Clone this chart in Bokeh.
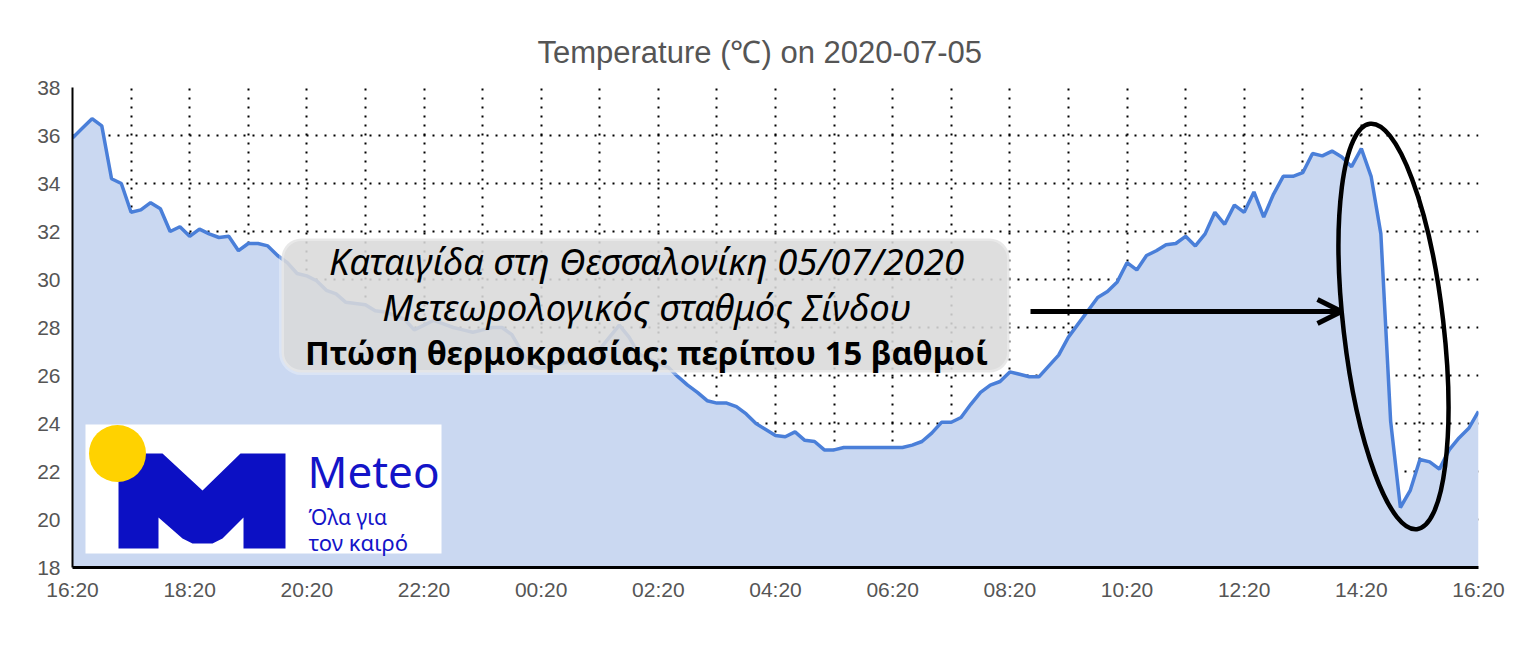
import pandas as pd
from bokeh.plotting import figure
from bokeh.models import (Range1d, FixedTicker, BoxAnnotation, Label, Arrow, OpenHead,
                          ColumnDataSource, DatetimeTickFormatter)
from bokeh.embed import file_html
from bokeh.resources import INLINE

# ---------------- data ----------------
times = pd.date_range("2020-07-04 16:20", periods=145, freq="10min")
temps = [
    35.9, 36.3, 36.7, 36.4, 34.2, 34.0, 32.8, 32.9, 33.2, 32.95,
    32.0, 32.2, 31.8, 32.1, 31.9, 31.75, 31.8, 31.2, 31.5, 31.5,
    31.4, 31.0, 30.7, 30.25, 30.15, 29.95, 29.55, 29.4, 29.05, 29.0,
    28.95, 28.7, 28.65, 28.5, 28.35, 27.9, 28.1, 28.3, 28.15, 28.0,
    27.9, 27.8, 27.9, 28.0, 28.0, 27.7, 27.0, 26.4, 26.3, 26.4,
    26.5, 26.6, 26.5, 26.8, 27.1, 27.6, 28.1, 27.6, 26.9, 26.7,
    26.5, 26.35, 25.95, 25.6, 25.3, 24.95, 24.85, 24.85, 24.7, 24.4,
    24.0, 23.75, 23.5, 23.45, 23.65, 23.3, 23.25, 22.9, 22.9, 23.0,
    23.0, 23.0, 23.0, 23.0, 23.0, 23.0, 23.1, 23.25, 23.6, 24.05,
    24.05, 24.25, 24.8, 25.3, 25.6, 25.75, 26.15, 26.05, 25.95, 25.95,
    26.4, 26.85, 27.6, 28.15, 28.7, 29.25, 29.5, 29.9, 30.7, 30.4,
    31.0, 31.2, 31.45, 31.5, 31.8, 31.4, 31.9, 32.8, 32.3, 33.1,
    32.8, 33.65, 32.6, 33.55, 34.3, 34.3, 34.45, 35.25, 35.15, 35.35,
    35.1, 34.7, 35.45, 34.3, 31.9, 24.1, 20.5, 21.2, 22.5, 22.4,
    22.1, 22.9, 23.4, 23.8, 24.5,
]
x_tick_labels = ["16:20", "18:20", "20:20", "22:20", "00:20", "02:20", "04:20",
                 "06:20", "08:20", "10:20", "12:20", "14:20", "16:20"]
y_ticks = [18, 20, 22, 24, 26, 28, 30, 32, 34, 36, 38]

title_text = "Temperature (\u2103) on 2020-07-05"
caption_lines = ["Καταιγίδα στη Θεσσαλονίκη 05/07/2020",
                 "Μετεωρολογικός σταθμός Σίνδου",
                 "Πτώση θερμοκρασίας: περίπου 15 βαθμοί"]
logo_texts = ["Meteo", "Όλα για", "τον καιρό"]

# ---------------- helpers ----------------
HOUR = 3600 * 1000
t0_ms = int(times[0].value // 1_000_000)
t1_ms = int(times[-1].value // 1_000_000)
x_ticks = [t0_ms + k * 2 * HOUR for k in range(len(x_tick_labels))]
hour_ticks = [t0_ms + k * HOUR for k in range(25)]

# frame geometry on the page (for placing decorations)
FL, FT, FW, FH = 72, 87, 1406, 480
def dx(xp):
    return t0_ms + (xp - FL) / FW * 24 * HOUR
def dy(yp):
    return 38 - (yp - FT) / FH * 20

src = ColumnDataSource(dict(t=times, temp=temps))

p = figure(width=1516, height=628, x_axis_type="datetime",
           x_range=Range1d(t0_ms, t1_ms), y_range=Range1d(18, 38),
           output_backend="svg", toolbar_location=None,
           min_border_left=72, min_border_right=38,
           min_border_top=87, min_border_bottom=61)

p.title.text = title_text
p.title.align = "left"
p.title.offset = 465
p.title.text_font = "Liberation Sans"
p.title.text_font_size = "31px"
p.title.text_font_style = "normal"
p.title.text_color = "#555555"
p.title.standoff = 36

p.outline_line_color = None
p.background_fill_color = "white"
p.border_fill_color = "white"

# axes
p.xaxis.ticker = FixedTicker(ticks=x_ticks)
p.xaxis.formatter = DatetimeTickFormatter(hours="%H:%M", minutes="%H:%M", days="%H:%M")
p.xaxis.major_label_overrides = {v: lab for v, lab in zip(x_ticks, x_tick_labels)}
p.yaxis.ticker = FixedTicker(ticks=y_ticks)
for ax in (p.xaxis[0], p.yaxis[0]):
    ax.axis_line_color = "black"
    ax.major_tick_line_color = None
    ax.minor_tick_line_color = None
    ax.major_tick_out = 0
    ax.major_tick_in = 0
    ax.minor_tick_out = 0
    ax.minor_tick_in = 0
    ax.major_label_text_font = "Liberation Sans"
    ax.major_label_text_font_size = "21px"
    ax.major_label_text_color = "#555555"
p.xaxis.axis_line_width = 3
p.yaxis.axis_line_width = 2
p.xaxis.major_label_standoff = 10
p.yaxis.major_label_standoff = 12

# grids
p.xgrid.ticker = FixedTicker(ticks=hour_ticks)
p.ygrid.ticker = FixedTicker(ticks=y_ticks)
for g in (p.xgrid[0], p.ygrid[0]):
    g.grid_line_color = "black"
    g.grid_line_dash = "2 7"
    g.grid_line_width = 2

# series
p.varea(x="t", y1=18, y2="temp", source=src, fill_color="#cad8f1")
p.line(x="t", y="temp", source=src, line_color="#4a7fd9", line_width=3.5)

# ---------------- logo ----------------
p.quad(left=[dx(85)], right=[dx(441)], top=[dy(424)], bottom=[dy(553)],
       fill_color="white", line_color=None)
m_shape = [(118, 453), (162, 453), (202, 490), (240, 453), (285, 453), (285, 548),
           (243, 548), (243, 517), (222, 538), (212, 543), (192, 543), (182, 538),
           (158, 517), (158, 548), (118, 548)]
p.patch([dx(a) for a, _ in m_shape], [dy(b) for _, b in m_shape],
        fill_color="#0c10c4", line_color=None)
p.scatter(x=[dx(117)], y=[dy(453)], size=57, marker="circle",
          fill_color="#ffd200", line_color=None)
p.add_layout(Label(x=dx(307), y=dy(470), text=logo_texts[0], text_align="left",
                   text_baseline="middle", text_font="Noto Sans", text_font_size="44px",
                   text_color="#1414c8"))
p.add_layout(Label(x=dx(308), y=dy(516), text=logo_texts[1], text_align="left",
                   text_baseline="middle", text_font="Noto Sans", text_font_size="21px",
                   text_color="#1414c8"))
p.add_layout(Label(x=dx(308), y=dy(541), text=logo_texts[2], text_align="left",
                   text_baseline="middle", text_font="Noto Sans", text_font_size="22px",
                   text_color="#1414c8"))

# ---------------- caption box ----------------
p.add_layout(BoxAnnotation(left=dx(281), right=dx(1009), top=dy(238), bottom=dy(372),
                           fill_color="#d9d9d9", fill_alpha=0.88,
                           line_color="white", line_width=5, border_radius=20))
for txt, yp, style, size in [(caption_lines[0], 260, "italic", "36.5px"),
                             (caption_lines[1], 306, "italic", "36.5px"),
                             (caption_lines[2], 352, "bold", "32.8px")]:
    p.add_layout(Label(x=dx(646), y=dy(yp), text=txt, text_align="center",
                       text_baseline="middle", text_font="Noto Sans",
                       text_font_style=style, text_font_size=size, text_color="black"))

# ---------------- arrow and ellipse ----------------
p.add_layout(Arrow(end=OpenHead(size=24, line_width=5, line_color="black"),
                   x_start=dx(1030), y_start=dy(311), x_end=dx(1341), y_end=dy(311),
                   line_width=5, line_color="black"))
p.ellipse(x=[dx(1393)], y=[dy(326)], width=100, height=408,
          width_units="screen", height_units="screen", angle=0.115,
          fill_color=None, line_color="black", line_width=4.5)

open("out.html", "w").write(file_html(p, INLINE))
